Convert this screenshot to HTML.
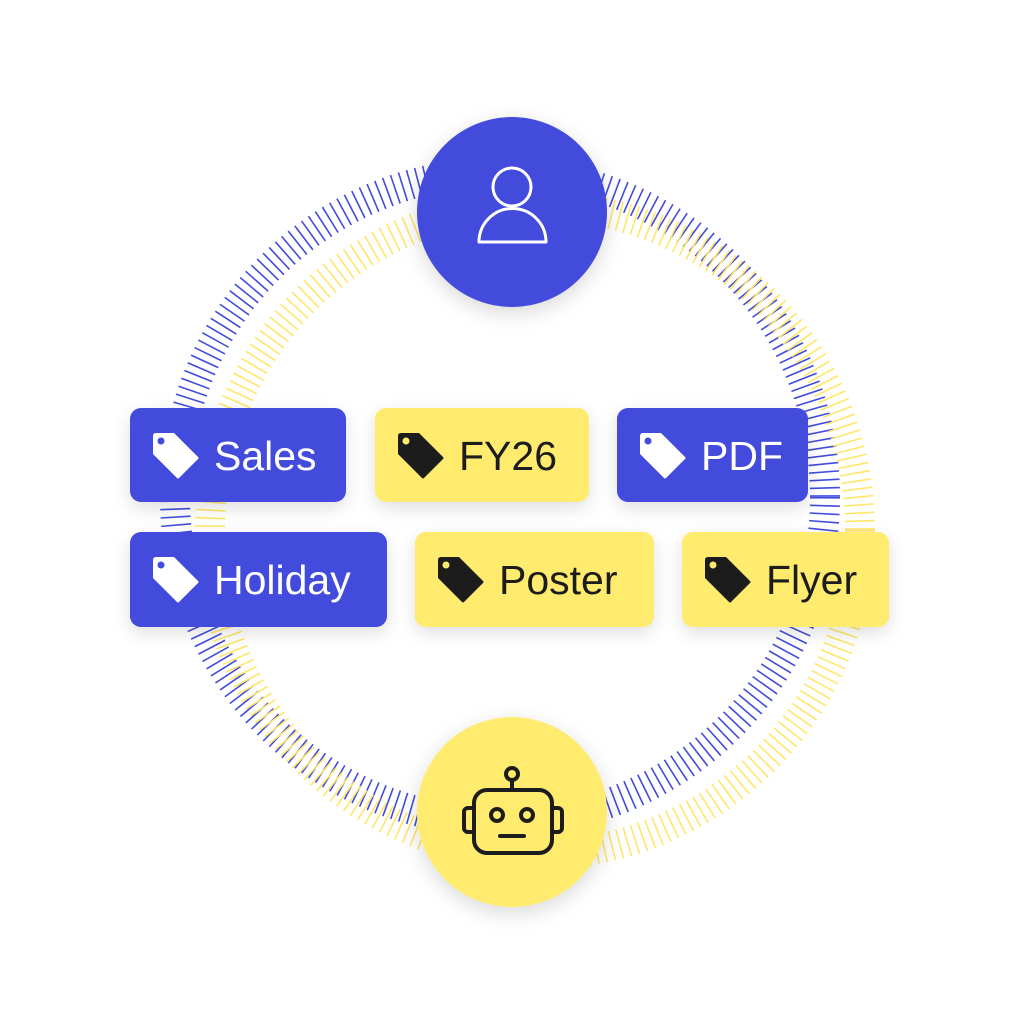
<!DOCTYPE html>
<html><head><meta charset="utf-8"><style>
html,body{margin:0;padding:0;background:#fff;}
body{width:1024px;height:1024px;position:relative;overflow:hidden;font-family:"Liberation Sans",sans-serif;}
.tag{position:absolute;border-radius:11px;box-shadow:0 6px 18px rgba(0,0,0,0.13);display:flex;align-items:center;font-size:41px;}
.b{background:#434BDC;color:#fff;}
.y{background:#FFEB6E;color:#1c1c1c;}
.tag svg{position:absolute;left:22px;top:24px;}
.tag span{position:absolute;left:84px;top:27px;line-height:42px;}
</style></head><body>
<svg width="1024" height="1024" style="position:absolute;left:0;top:0">
<defs><filter id="sh" x="-30%" y="-30%" width="160%" height="160%"><feDropShadow dx="0" dy="6" stdDeviation="10" flood-color="#000" flood-opacity="0.15"/></filter></defs>
<circle cx="500" cy="497" r="325" fill="none" stroke="#434BDC" stroke-width="30" stroke-dasharray="1.6 6.4"/>
<circle cx="535" cy="530" r="325" fill="none" stroke="#FFE66A" stroke-width="30" stroke-dasharray="1.6 6.4"/>
<circle cx="512" cy="212" r="95" fill="#434BDC" filter="url(#sh)"/>
<circle cx="512" cy="187" r="19" fill="none" stroke="#fff" stroke-width="3"/>
<path d="M479 242 A33 33 0 0 1 546 242 Z" fill="none" stroke="#fff" stroke-width="3" stroke-linejoin="round"/>
<circle cx="512" cy="812" r="95" fill="#FFEB6E" filter="url(#sh)"/>
<g fill="none" stroke="#1c1c1c" stroke-width="4" stroke-linecap="round">
<circle cx="512" cy="774" r="6"/>
<line x1="512" y1="780" x2="512" y2="790"/>
<rect x="474" y="790" width="78" height="63" rx="13"/>
<path d="M474 808 h-6 a4 4 0 0 0 -4 4 v16 a4 4 0 0 0 4 4 h6"/>
<path d="M552 808 h6 a4 4 0 0 1 4 4 v16 a4 4 0 0 1 -4 4 h-6"/>
<circle cx="497" cy="815" r="6"/>
<circle cx="527" cy="815" r="6"/>
<line x1="500" y1="836" x2="524" y2="836"/>
</g>
</svg>
<div class="tag b" style="left:130px;top:408px;width:216px;height:94px"><svg width="48" height="48" viewBox="0 0 48 48"><path d="M4 1 H22 L46 25 Q47 26 46 27 L27 46 Q26 47 25 46 L1 22 V4 Q1 1 4 1Z" fill="#fff"/><circle cx="9" cy="9" r="3.5" fill="#434BDC"/></svg><span>Sales</span></div>
<div class="tag y" style="left:375px;top:408px;width:214px;height:94px"><svg width="48" height="48" viewBox="0 0 48 48"><path d="M4 1 H22 L46 25 Q47 26 46 27 L27 46 Q26 47 25 46 L1 22 V4 Q1 1 4 1Z" fill="#1c1c1c"/><circle cx="9" cy="9" r="3.5" fill="#FFEB6E"/></svg><span>FY26</span></div>
<div class="tag b" style="left:617px;top:408px;width:191px;height:94px"><svg width="48" height="48" viewBox="0 0 48 48"><path d="M4 1 H22 L46 25 Q47 26 46 27 L27 46 Q26 47 25 46 L1 22 V4 Q1 1 4 1Z" fill="#fff"/><circle cx="9" cy="9" r="3.5" fill="#434BDC"/></svg><span>PDF</span></div>
<div class="tag b" style="left:130px;top:532px;width:257px;height:95px"><svg width="48" height="48" viewBox="0 0 48 48"><path d="M4 1 H22 L46 25 Q47 26 46 27 L27 46 Q26 47 25 46 L1 22 V4 Q1 1 4 1Z" fill="#fff"/><circle cx="9" cy="9" r="3.5" fill="#434BDC"/></svg><span>Holiday</span></div>
<div class="tag y" style="left:415px;top:532px;width:239px;height:95px"><svg width="48" height="48" viewBox="0 0 48 48"><path d="M4 1 H22 L46 25 Q47 26 46 27 L27 46 Q26 47 25 46 L1 22 V4 Q1 1 4 1Z" fill="#1c1c1c"/><circle cx="9" cy="9" r="3.5" fill="#FFEB6E"/></svg><span>Poster</span></div>
<div class="tag y" style="left:682px;top:532px;width:207px;height:95px"><svg width="48" height="48" viewBox="0 0 48 48"><path d="M4 1 H22 L46 25 Q47 26 46 27 L27 46 Q26 47 25 46 L1 22 V4 Q1 1 4 1Z" fill="#1c1c1c"/><circle cx="9" cy="9" r="3.5" fill="#FFEB6E"/></svg><span>Flyer</span></div>
</body></html>
